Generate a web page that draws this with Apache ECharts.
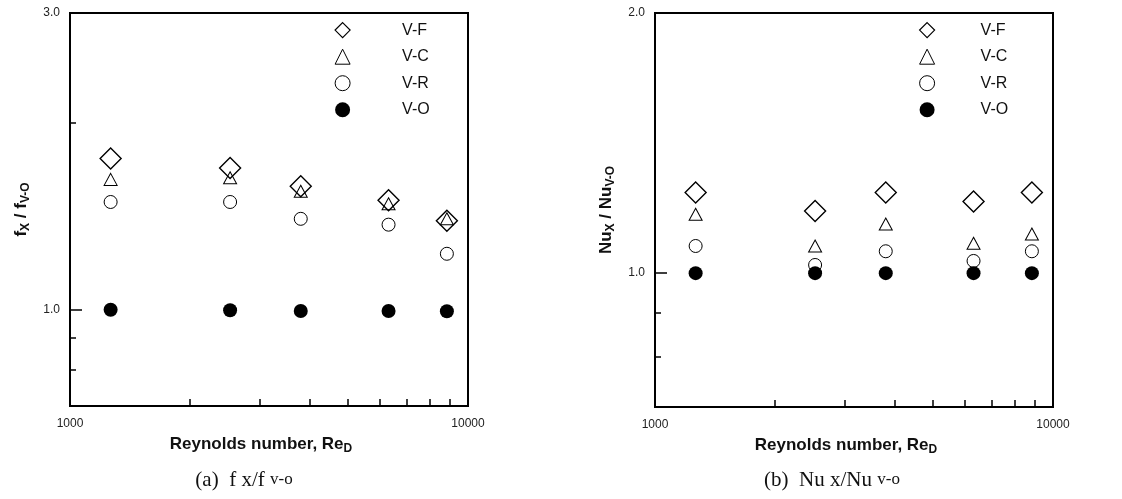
<!DOCTYPE html>
<html><head><meta charset="utf-8">
<script src="https://cdn.jsdelivr.net/npm/echarts@6/dist/echarts.min.js"></script>
<style>html,body{margin:0;padding:0;background:#fff}#c{width:1122px;height:499px}</style>
</head><body><div id="c"></div>
<script>
// ---- data ----
const reynolds = [1265, 2525, 3800, 6315, 8850];
const seriesNames = ['V-F', 'V-C', 'V-R', 'V-O'];
// panel (a) f_x / f_V-O
const fVF = [1.75, 1.69, 1.58, 1.50, 1.39];
const fVC = [1.62, 1.63, 1.55, 1.48, 1.40];
const fVR = [1.49, 1.49, 1.40, 1.37, 1.23];
const fVO = [1.0, 0.998, 0.995, 0.995, 0.994];
// panel (b) Nu_x / Nu_V-O
const nuVF = [1.24, 1.18, 1.24, 1.21, 1.24];
const nuVC = [1.17, 1.075, 1.14, 1.083, 1.11];
const nuVR = [1.075, 1.022, 1.06, 1.033, 1.06];
const nuVO = [1.0, 1.0, 1.0, 1.0, 1.0];
// ticks
const xTickValues = [1000, 2000, 3000, 4000, 5000, 6000, 7000, 8000, 9000, 10000];
const xLabelValues = [1000, 10000];
const fLabelValues = [1.0, 3.0];
const fMajorTicks = [1.0];
const fMinorTicks = [0.8, 0.9, 2.0];
const nuLabelValues = [1.0, 2.0];
const nuMajorTicks = [1.0];
const nuMinorTicks = [0.8, 0.9];

const FONT = '"Liberation Sans", Arial, sans-serif';
const SERIF = '"Liberation Serif", "Times New Roman", serif';

const symbolDefs = [
  {symbol: 'diamond', size: 21, fill: 'rgba(0,0,0,0)', bw: 1.4},
  {symbol: 'triangle', size: [13, 12], fill: 'rgba(0,0,0,0)', bw: 1},
  {symbol: 'circle', size: 13, fill: 'rgba(0,0,0,0)', bw: 1},
  {symbol: 'circle', size: 14, fill: '#000', bw: 0}
];

function xAxisDef(gridIndex) {
  return {
    type: 'log', logBase: 10, gridIndex, min: 1000, max: 10000,
    axisLine: {show: true, lineStyle: {color: '#000', width: 2}},
    axisTick: {show: true, inside: true, length: 7, customValues: xTickValues, lineStyle: {color: '#000', width: 1.5}},
    axisLabel: {show: true, customValues: xLabelValues, margin: 12, fontSize: 12, color: '#222', fontFamily: FONT,
      formatter: v => String(Math.round(v))},
    splitLine: {show: false},
    name: '{b|Reynolds number, Re}{s|D}',
    nameLocation: 'middle', nameGap: 27,
    nameTextStyle: {
      padding: [0, 16, 0, 0],
      rich: {
        b: {fontSize: 17, fontWeight: 'bold', fontFamily: FONT, color: '#111', lineHeight: 22},
        s: {fontSize: 12, fontWeight: 'bold', fontFamily: FONT, color: '#111', lineHeight: 8, verticalAlign: 'bottom'}
      }
    }
  };
}

function yAxisMain(gridIndex, min, max, labels, ticks, nameStr) {
  return {
    type: 'log', logBase: 10, gridIndex, min, max, position: 'left',
    axisLine: {show: true, lineStyle: {color: '#000', width: 2}},
    axisTick: {show: true, inside: true, length: 12, customValues: ticks, lineStyle: {color: '#000', width: 1.5}},
    axisLabel: {show: true, customValues: labels, margin: 10, fontSize: 12, color: '#222', fontFamily: FONT,
      formatter: v => Number(v).toFixed(1)},
    splitLine: {show: false},
    name: nameStr, nameLocation: 'middle', nameRotate: 90, nameGap: 38,
    nameTextStyle: {
      rich: {
        b: {fontSize: 17, fontWeight: 'bold', fontFamily: FONT, color: '#111', lineHeight: 22},
        s: {fontSize: 12, fontWeight: 'bold', fontFamily: FONT, color: '#111', lineHeight: 8, verticalAlign: 'bottom'}
      }
    }
  };
}

function yAxisMinor(gridIndex, min, max, ticks) {
  return {
    type: 'log', logBase: 10, gridIndex, min, max, position: 'left', offset: 0,
    axisLine: {show: false},
    axisTick: {show: true, inside: true, length: 6, customValues: ticks, lineStyle: {color: '#000', width: 1.5}},
    axisLabel: {show: false},
    splitLine: {show: false}
  };
}

function makeSeries(xIdx, yIdx, arrays) {
  return arrays.map((arr, i) => ({
    name: seriesNames[i], type: 'scatter', xAxisIndex: xIdx, yAxisIndex: yIdx,
    symbol: symbolDefs[i].symbol, symbolSize: symbolDefs[i].size, symbolKeepAspect: true,
    itemStyle: {color: symbolDefs[i].fill, borderColor: '#000', borderWidth: symbolDefs[i].bw, opacity: 1},
    emphasis: {disabled: true},
    data: reynolds.map((r, k) => [r, arr[k]])
  }));
}

function legendDef(left, gap) {
  return {
    orient: 'vertical', left, top: 22, padding: 0,
    itemWidth: 15, itemHeight: 15, itemGap: 10.5,
    data: [
      {name: 'V-F', icon: 'diamond', itemStyle: {borderWidth: 1.2}},
      {name: 'V-C', icon: 'triangle', itemStyle: {borderWidth: 1}},
      {name: 'V-R', icon: 'circle', itemStyle: {borderWidth: 1}},
      {name: 'V-O', icon: 'circle'}
    ],
    selectedMode: false,
    formatter: name => '{g|}{t|' + name + '}',
    textStyle: {
      fontSize: 16, fontFamily: FONT, color: '#111', lineHeight: 15,
      rich: {g: {width: gap}, t: {fontSize: 16, fontFamily: FONT, color: '#111', lineHeight: 15}}
    }
  };
}

const chart = echarts.init(document.getElementById('c'), null, {renderer: 'canvas'});
chart.setOption({
  animation: false,
  backgroundColor: '#fff',
  grid: [
    {left: 70, top: 13, width: 398, height: 393, show: true, borderColor: '#000', borderWidth: 2, backgroundColor: 'transparent'},
    {left: 655, top: 13, width: 398, height: 394, show: true, borderColor: '#000', borderWidth: 2, backgroundColor: 'transparent'}
  ],
  xAxis: [xAxisDef(0), xAxisDef(1)],
  yAxis: [
    yAxisMain(0, 0.7, 3.0, fLabelValues, fMajorTicks, '{b|f}{s|X}{b| / f}{s|V-O}'),
    yAxisMinor(0, 0.7, 3.0, fMinorTicks),
    yAxisMain(1, 0.7, 2.0, nuLabelValues, nuMajorTicks, '{b|Nu}{s|X}{b| / Nu}{s|V-O}'),
    yAxisMinor(1, 0.7, 2.0, nuMinorTicks)
  ],
  legend: [legendDef(334.5, 47), legendDef(919, 41)],
  series: [
    ...makeSeries(0, 0, [fVF, fVC, fVR, fVO]),
    ...makeSeries(1, 2, [nuVF, nuVC, nuVR, nuVO])
  ],
  graphic: [
    {type: 'text', x: 244, y: 480, style: {
      text: '{p|(a)  f x/f }{q|v-o}', align: 'center', verticalAlign: 'middle',
      rich: {p: {fontSize: 21, fontFamily: SERIF, fill: '#111'}, q: {fontSize: 17, fontFamily: SERIF, fill: '#111'}}
    }},
    {type: 'text', x: 832, y: 480, style: {
      text: '{p|(b)  Nu x/Nu }{q|v-o}', align: 'center', verticalAlign: 'middle',
      rich: {p: {fontSize: 21, fontFamily: SERIF, fill: '#111'}, q: {fontSize: 17, fontFamily: SERIF, fill: '#111'}}
    }}
  ]
});
</script>
</body></html>
